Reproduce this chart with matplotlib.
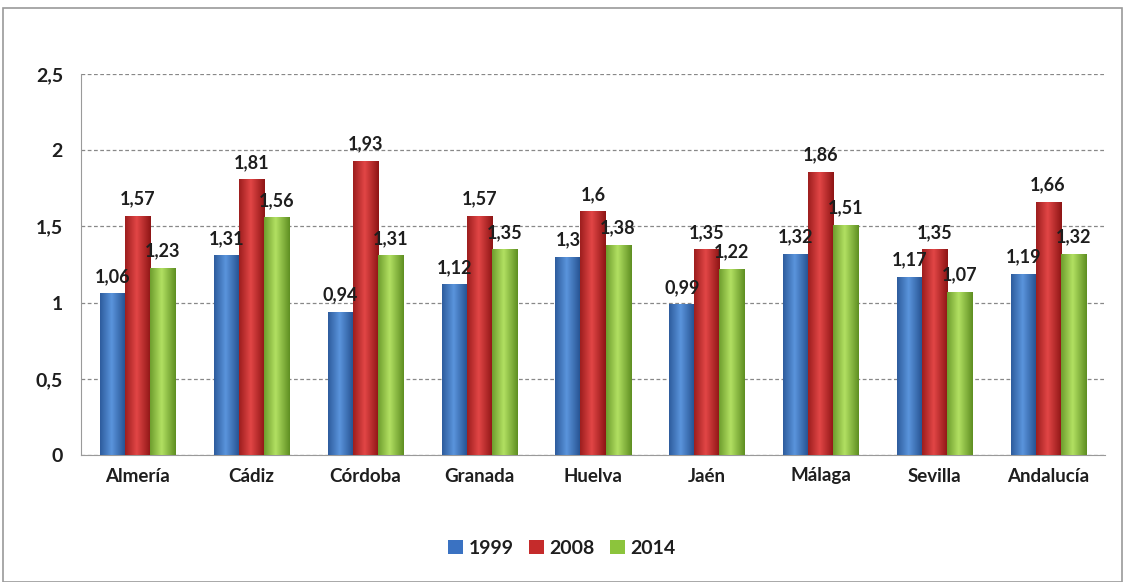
import numpy as np
import matplotlib
matplotlib.use("Agg")
import matplotlib.pyplot as plt
from matplotlib.patches import Rectangle
from matplotlib.colors import LinearSegmentedColormap

categories = ["Almería", "Cádiz", "Córdoba", "Granada", "Huelva", "Jaén", "Málaga", "Sevilla", "Andalucía"]
series_names = ["1999", "2008", "2014"]
v1999 = [1.06, 1.31, 0.94, 1.12, 1.30, 0.99, 1.32, 1.17, 1.19]
v2008 = [1.57, 1.81, 1.93, 1.57, 1.60, 1.35, 1.86, 1.35, 1.66]
v2014 = [1.23, 1.56, 1.31, 1.35, 1.38, 1.22, 1.51, 1.07, 1.32]
label_1999 = ["1,06", "1,31", "0,94", "1,12", "1,3", "0,99", "1,32", "1,17", "1,19"]
label_2008 = ["1,57", "1,81", "1,93", "1,57", "1,6", "1,35", "1,86", "1,35", "1,66"]
label_2014 = ["1,23", "1,56", "1,31", "1,35", "1,38", "1,22", "1,51", "1,07", "1,32"]
yticks = [0, 0.5, 1, 1.5, 2, 2.5]
ytick_labels = ["0", "0,5", "1", "1,5", "2", "2,5"]

plt.rcParams['font.family'] = ['Lato', 'DejaVu Sans']

fig = plt.figure(figsize=(11.25, 5.82), dpi=100)
fig.patches.append(Rectangle((3/1125, 0), 1119/1125, 1 - 8/582, transform=fig.transFigure,
                             fill=False, edgecolor='#9a9a9a', linewidth=1.2))
ax = fig.add_axes([81/1125, 1 - 455/582, 1024/1125, (455 - 74)/582])

colors = [
    ('#24508f', '#5a94dc'),
    ('#8e1515', '#e24646'),
    ('#5f8f22', '#b2e062'),
]
base_colors = ['#3a72c2', '#c52b2b', '#8cc43c']
values = [v1999, v2008, v2014]
labels = [label_1999, label_2008, label_2014]
x = np.arange(len(categories))
w = 0.22
grad = np.linspace(0, 1, 64).reshape(1, -1)
grad = 1 - np.abs(grad - 0.45) / 0.55

for i, (vals, labs) in enumerate(zip(values, labels)):
    off = (i - 1) * w
    bars = ax.bar(x + off, vals, w, color=base_colors[i], edgecolor='none', zorder=3,
                  label=series_names[i])
    cmap = LinearSegmentedColormap.from_list('c%d' % i, [colors[i][0], colors[i][1]])
    for b in bars:
        bx, by = b.get_x(), b.get_y()
        bw, bh = b.get_width(), b.get_height()
        im = ax.imshow(grad, extent=[bx, bx + bw, by, by + bh], aspect='auto',
                       cmap=cmap, vmin=0, vmax=1, zorder=3.5, interpolation='bilinear')
        im.set_clip_path(b)
    for xi, v, t in zip(x + off, vals, labs):
        ax.annotate(t, (xi, v), xytext=(0, 6), textcoords='offset points',
                    ha='center', va='bottom', fontsize=13, fontweight='bold',
                    color='#1e1e1e', zorder=5)

ax.set_xlim(-0.5, len(categories) - 0.5)
ax.set_ylim(0, 2.5)
ax.set_yticks(yticks)
ax.set_yticklabels(ytick_labels, fontsize=14, fontweight='bold', color='#1e1e1e')
ax.set_xticks(x)
ax.set_xticklabels(categories, fontsize=13.5, fontweight='bold', color='#1e1e1e')
ax.tick_params(axis='both', length=0)
ax.tick_params(axis='y', pad=13)
ax.tick_params(axis='x', pad=9)
ax.grid(axis='y', linestyle=(0, (3, 2)), color='#888888', linewidth=0.9, zorder=0)
for s in ['top', 'right']:
    ax.spines[s].set_visible(False)
ax.spines['left'].set_color('#9a9a9a')
ax.spines['bottom'].set_color('#9a9a9a')

leg = fig.legend(loc='center', bbox_to_anchor=(562/1125, 1 - 548/582), ncol=3, frameon=False,
                 fontsize=14, handlelength=0.75, handleheight=0.75, handletextpad=0.3,
                 columnspacing=0.8)
for t in leg.get_texts():
    t.set_fontweight('bold')
    t.set_color('#1e1e1e')

fig.savefig('out.png', dpi=100)
